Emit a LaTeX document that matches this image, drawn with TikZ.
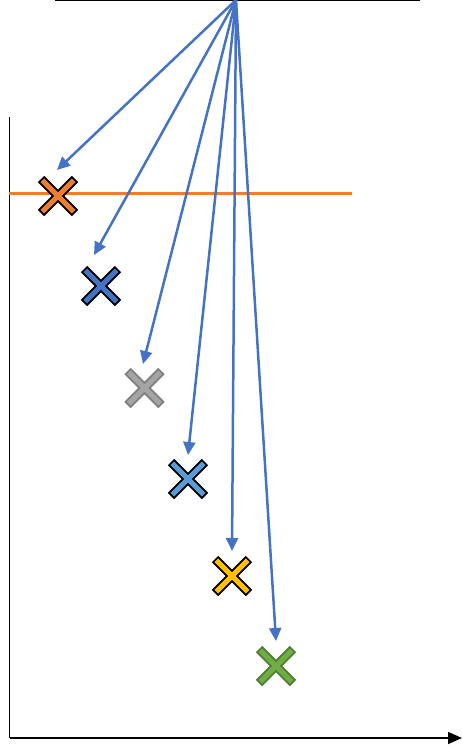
\documentclass[tikz,border=0pt]{standalone}
\usetikzlibrary{arrows.meta,calc}
\definecolor{accblue}{HTML}{4472C4}
\definecolor{accorange}{HTML}{ED7D31}
\definecolor{accgray}{HTML}{A5A5A5}
\definecolor{accgrayedge}{HTML}{7F7F7F}
\definecolor{accyellow}{HTML}{FFC000}
\definecolor{acclblue}{HTML}{5B9BD5}
\definecolor{accgreen}{HTML}{70AD47}
\definecolor{accgreenedge}{HTML}{507E32}
\tikzset{
  axisline/.style={black, line width=1.6pt},
  ray/.style={accblue, line width=2.5pt, -{Triangle[length=13pt,width=12pt]}},
  crossedge/.style={line width=9pt, line cap=butt},
  crossfill/.style={line width=5.2pt, line cap=butt},
}
% an X marker: outline colour drawn first, fill colour on top
\newcommand\drawcross[3]{%
  \draw[crossedge,#3] ($(#1)+(-17,-17)$) -- ($(#1)+(17,17)$)
                      ($(#1)+(-17,17)$) -- ($(#1)+(17,-17)$);
  \draw[crossfill,#2] ($(#1)+(-15.7,-15.7)$) -- ($(#1)+(15.7,15.7)$)
                      ($(#1)+(-15.7,15.7)$) -- ($(#1)+(15.7,-15.7)$);
}
\begin{document}
\begin{tikzpicture}[x=1pt,y=-1pt]
  \useasboundingbox (0,0) rectangle (462,749);
  % top reference line and source point
  \coordinate (topl) at (55,0.6);
  \coordinate (topr) at (420,0.6);
  \draw[black, line width=1pt] (topl) -- (topr);
  \coordinate (src) at (236,0);
  % axes
  \coordinate (ytop) at (9.5,117);
  \coordinate (orig) at (9.5,738);
  \coordinate (xend) at (462,738);
  \draw[axisline] (ytop) -- (orig);
  \draw[axisline, -{Triangle[length=14pt,width=12pt]}] (orig) -- (xend);
  % horizontal threshold line
  \coordinate (thl) at (9,193);
  \coordinate (thr) at (352,193);
  \draw[accorange, line width=3pt] (thl) -- (thr);
  % markers
  \coordinate (m1) at (58,196);
  \coordinate (m2) at (101,286);
  \coordinate (m3) at (144.5,388);
  \coordinate (m4) at (188,479);
  \coordinate (m5) at (232,576);
  \coordinate (m6) at (276,666);
  \drawcross{m1}{accorange}{black}
  \drawcross{m2}{accblue}{black}
  \drawcross{m3}{accgray}{accgrayedge}
  \drawcross{m4}{acclblue}{black}
  \drawcross{m5}{accyellow}{black}
  \drawcross{m6}{accgreen}{accgreenedge}
  % arrow targets just above each marker
  \coordinate (t1) at (57,170);
  \coordinate (t2) at (94,255);
  \coordinate (t3) at (143,364);
  \coordinate (t4) at (188,455);
  \coordinate (t5) at (232,551);
  \coordinate (t6) at (276,641);
  \foreach \t in {t1,t2,t3,t4,t5,t6}
    \draw[ray] (src) -- (\t);
\end{tikzpicture}
\end{document}
